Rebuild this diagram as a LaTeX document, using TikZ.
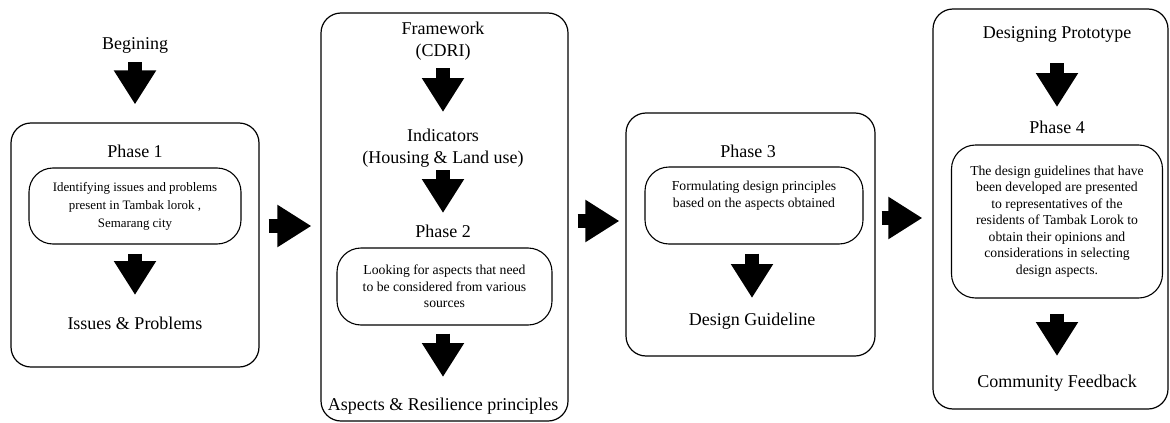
\documentclass[tikz,border=0pt]{standalone}
\usepackage{fontspec}
\setmainfont{Liberation Serif}
\usetikzlibrary{arrows.meta,positioning}

\tikzstyle{phasebox}   = [draw, rounded corners=20pt, line width=1.2pt, inner sep=0pt]
\tikzstyle{taskbox}    = [draw, rounded corners=24pt, line width=1.1pt, inner sep=0pt, align=center, font=\fontsize{13.7}{16.5}\selectfont]
\tikzstyle{stagetext}  = [inner sep=0pt, align=center, font=\fontsize{18}{22}\selectfont]
\tikzstyle{blockarrow} = [line width=14pt, -{Triangle[length=34pt,width=40pt]}]

\begin{document}
\begin{tikzpicture}[x=1pt,y=-1pt]
        \useasboundingbox (0,0) rectangle (1170,423);

        \node[phasebox, minimum width=248pt, minimum height=244pt] (box1) at (135,245) {};
        \node[phasebox, minimum width=247pt, minimum height=408pt] (box2) at (444.5,217) {};
        \node[phasebox, minimum width=249pt, minimum height=243pt] (box3) at (750.5,234.5) {};
        \node[phasebox, minimum width=235pt, minimum height=400pt] (box4) at (1050.5,209) {};

        \node[stagetext] (beg) at (135,45) {Begining};
        \node[stagetext] (ph1) at (135,151.5) {Phase 1};
        \node[taskbox, minimum width=212pt, minimum height=76pt, font=\fontsize{12.9}{18}\selectfont] (in1) at (135,206)
            {Identifying issues and problems\\present in Tambak lorok ,\\Semarang city};
        \node[stagetext] (iss) at (135,323.5) {Issues \& Problems};

        \node[stagetext] (fw) at (443,41) {Framework\\(CDRI)};
        \node[stagetext] (ind) at (443,148) {Indicators\\(Housing \& Land use)};
        \node[stagetext] (ph2) at (443,231.5) {Phase 2};
        \node[taskbox, minimum width=215pt, minimum height=77pt] (in2) at (444.5,286.5)
            {Looking for aspects that need\\to be considered from various\\sources};
        \node[stagetext] (asp) at (443,406.5) {Aspects \& Resilience principles};

        \node[stagetext] (ph3) at (748,151.5) {Phase 3};
        \node[taskbox, minimum width=218pt, minimum height=77pt] (in3) at (754,205.5)
            {Formulating design principles\\based on the aspects obtained\\[6pt]\mbox{}};
        \node[stagetext] (dg) at (752,321.5) {Design Guideline};

        \node[stagetext] (dp) at (1057,34.5) {Designing Prototype};
        \node[stagetext] (ph4) at (1057,127.5) {Phase 4};
        \node[taskbox, minimum width=211pt, minimum height=153pt] (in4) at (1057,221.5)
            {The design guidelines that have\\been developed are presented\\to representatives of the\\residents of Tambak Lorok to\\obtain their opinions and\\considerations in selecting\\design aspects.};
        \node[stagetext] (cf) at (1057,383.5) {Community Feedback};

        \draw[blockarrow, shorten <=17pt, shorten >=18pt] (beg.center) -- (box1.north);
        \draw[blockarrow, shorten <=9pt, shorten >=28.5pt] (in1.south) -- (iss.center);

        \draw[blockarrow, shorten <=27pt, shorten >=36pt] (fw.center) -- (ind.center);
        \draw[blockarrow, shorten <=22pt, shorten >=18.5pt] (ind.center) -- (ph2.center);
        \draw[blockarrow, shorten <=8pt, shorten >=29.5pt] (asp.center |- in2.south) -- (asp.center);

        \draw[blockarrow, shorten <=9pt, shorten >=23.5pt] (dg.center |- in3.south) -- (dg.center);

        \draw[blockarrow, shorten <=28.5pt, shorten >=20.5pt] (dp.center) -- (ph4.center);
        \draw[blockarrow, shorten <=15pt, shorten >=27.5pt] (in4.south) -- (cf.center);

        \coordinate (h12) at (290,226);
        \coordinate (h23) at (597,221);
        \coordinate (h34) at (904,218);
        \draw[blockarrow, shorten <=9pt, shorten >=9pt] (h12 -| box1.east) -- (h12 -| box2.west);
        \draw[blockarrow, shorten <=9pt, shorten >=6pt] (h23 -| box2.east) -- (h23 -| box3.west);
        \draw[blockarrow, shorten <=6pt, shorten >=10pt] (h34 -| box3.east) -- (h34 -| box4.west);
    \end{tikzpicture}
\end{document}
